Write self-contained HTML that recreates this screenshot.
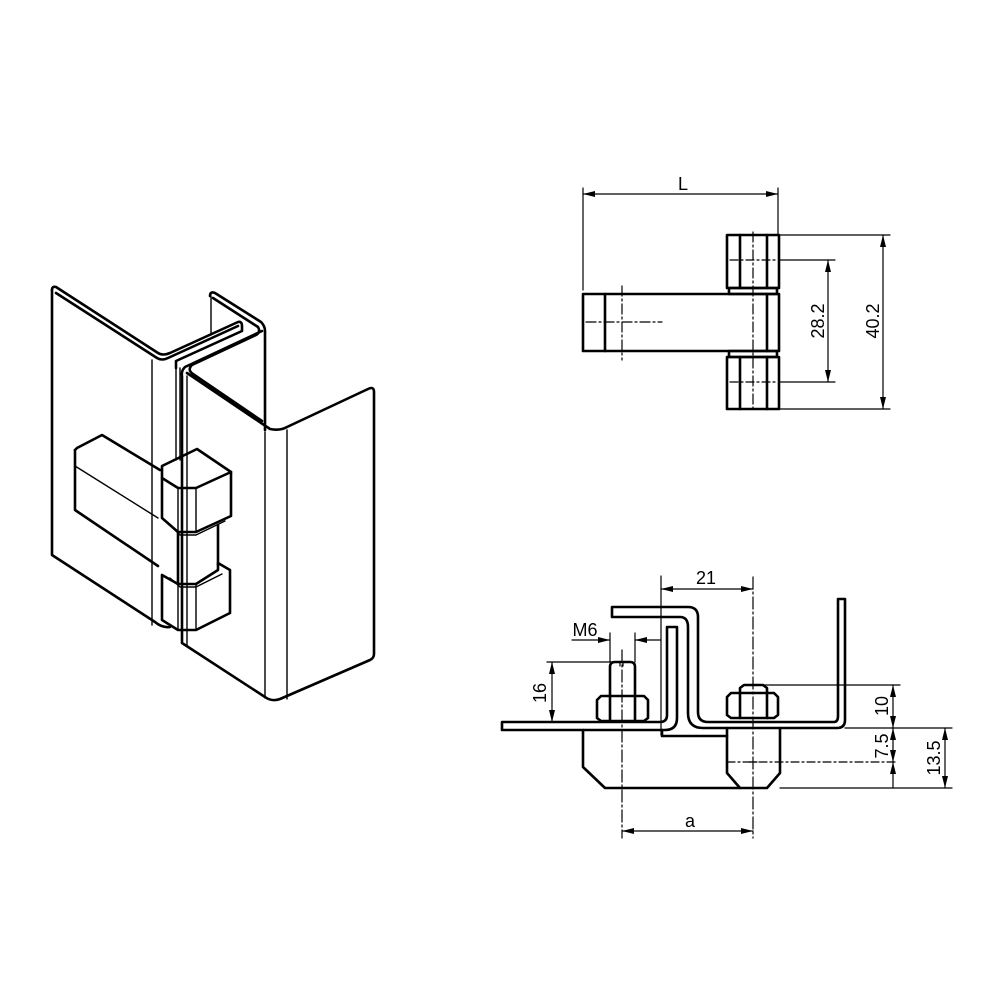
<!DOCTYPE html>
<html><head><meta charset="utf-8"><style>
html,body{margin:0;padding:0;background:#fff}
svg{display:block}
text{font-family:"Liberation Sans","DejaVu Sans",sans-serif;font-size:18px;fill:#000}
</style></head><body>
<svg width="1000" height="1000" viewBox="0 0 1000 1000" xmlns="http://www.w3.org/2000/svg">
<defs>
<marker id="a" viewBox="0 0 12 6" refX="12" refY="3" markerWidth="12" markerHeight="6" orient="auto-start-reverse" markerUnits="userSpaceOnUse"><path d="M0,0 L12,3 L0,6 Z" fill="#000"/></marker>
</defs>
<g fill="none" stroke="#000" stroke-linejoin="round" stroke-linecap="round">
<!-- ISOMETRIC -->
<g stroke-width="2.6">
<path d="M52,290 Q52,286 56,287 L158,353 Q163,356 170,353 L238,322 Q242,321 242,326 L242,331 L176,361 L176,368"/>
<path d="M56,293 L157,358 Q162,361 168,358 L238,326"/>
<path d="M52,290 L52,555 L155,622 Q162,628 170,627"/>
<path d="M210,296 Q210,291 215,293 L261,322 Q265,326 265,331 L265,430"/>
<path d="M213,298 L258,327 Q261,332 256,335 L192,365 Q187,370 193,374 L262,421"/>
<path d="M262,331 L185,367 Q181,371 182,376 L182,643 L265,697 Q272,702 280,699 L370,660 Q374,658 374,654 L374,392 Q374,386 368,389 L287,427 Q280,431 270,429 L187,373"/>
<path d="M75,450 L75,510 L158,566"/>
<path d="M75,450 L77,448 L102,435 L160,470"/>
<path d="M162,466 L197,449 L231,472 L196,488 L178,488 L162,478 Z"/>
<path d="M162,478 L162,518 L178,532 L196,532 L231,516 L231,472"/>
<path d="M178,532 L178,584 M218,525 L218,565"/>
<path d="M162,575 L162,620 L178,630 L196,630 L230,613 L230,570 L218,563 L218,570 L196,584 L178,584 L162,575"/>
</g>
<g stroke-width="1.4">
<path d="M152,360 L152,625"/>
<path d="M211,296 L211,335"/>
<path d="M187,376 L187,645"/>
<path d="M265,432 L265,698"/>
<path d="M287,430 L287,699"/>
<path d="M176,368 L176,460"/>
<path d="M180,368 L180,460"/>
<path d="M75,466 L158,518"/>
<path d="M178,488 L178,532 M196,488 L196,532"/>
<path d="M170,525 L180,535 L196,535 L225,521"/>
<path d="M178,584 L178,630 M196,584 L196,630"/>
<path d="M170,578 L180,587 L196,587 L222,574"/>
<path d="M182,630 L182,642"/>
</g>

<!-- TOP VIEW -->
<g stroke-width="2.6">
<rect x="727" y="235" width="52" height="53"/>
<rect x="729" y="288" width="48" height="6"/>
<rect x="583" y="294" width="196" height="57"/>
<rect x="729" y="351" width="48" height="6"/>
<rect x="727" y="357" width="52" height="52"/>
<path d="M740,235 V288 M767,235 V288 M740,357 V409 M767,357 V409 M605,294 V351 M767,294 V351"/>
</g>
<g stroke-width="1.2">
<path d="M753,232 V412" stroke-dasharray="10,3,2,3"/>
<path d="M730,260 H776 M730,382 H776" stroke-dasharray="8,3,2,3"/>
<path d="M622,286 V360 M586,322 H662" stroke-dasharray="10,3,2,3"/>
<path d="M583,290 V188 M778,235 V188"/>
<path d="M583,194 H778" marker-start="url(#a)" marker-end="url(#a)"/>
<path d="M779,260 H835 M779,382 H835 M779,235 H890 M779,409 H890"/>
<path d="M828,260 V382" marker-start="url(#a)" marker-end="url(#a)"/>
<path d="M883,235 V409" marker-start="url(#a)" marker-end="url(#a)"/>
</g>
<g stroke="none">
<text x="683" y="190" text-anchor="middle">L</text>
<text transform="translate(824,321) rotate(-90)" text-anchor="middle">28.2</text>
<text transform="translate(879,321) rotate(-90)" text-anchor="middle">40.2</text>
</g>

<!-- SECTION VIEW -->
<g stroke-width="2.6">
<path d="M612,607 L688,607 Q698,607 698,617 L698,712 Q698,722 708,722 L834,722 Q838,722 838,716 L838,599 L845,599 L845,720 Q845,728 837,728 L703,728 Q688,728 688,713 L688,627 Q688,617 680,617 L612,617 Z"/>
<path d="M502,722 L660,722 Q667,722 667,715 L667,627 L677,627 L677,718 Q677,730 665,730 L502,730 Z"/>
<path d="M583,730 L583,767 L605,788 L740,788 M662,730 L662,736 L727,736"/>
<path d="M727,728 L727,773 L740,788 L767,788 L780,773 L780,728"/>
<path d="M597,700 L601,696 L644,696 L648,700 L648,718 L644,721 L601,721 L597,718 Z"/>
<path d="M610,696 V721 M635,696 V721"/>
<path d="M610,696 L610,667 Q610,662 615,662 L630,662 Q635,662 635,667 L635,696"/>
<path d="M727,697 L731,693 L774,693 L778,697 L778,715 L774,718 L731,718 L727,715 Z"/>
<path d="M740,693 V718 M767,693 V718"/>
<path d="M740,693 L740,688 L744,685 L763,685 L767,688 L767,693"/>
</g>
<g stroke-width="1.2">
<path d="M620,662 V666 M623,662 V666"/>
<path d="M622,650 V838 M753,577 V838" stroke-dasharray="12,3,2,3"/>
<path d="M727,762 H898" stroke-dasharray="8,3,2,3"/>
<path d="M749,762 H757"/>
<path d="M661,576 V735"/>
<path d="M661,589 H753" marker-start="url(#a)" marker-end="url(#a)"/>
<path d="M610,633 V662 M635,633 V662"/>
<path d="M572,640 H610" marker-end="url(#a)"/>
<path d="M661,640 H635" marker-end="url(#a)"/>
<path d="M547,662 H612"/>
<path d="M552,662 V722" marker-start="url(#a)" marker-end="url(#a)"/>
<path d="M760,685 H900 M845,728 H952 M780,788 H952"/>
<path d="M893,685 V728" marker-start="url(#a)" marker-end="url(#a)"/>
<path d="M893,728 V762" marker-start="url(#a)" marker-end="url(#a)"/>
<path d="M893,762 V788" marker-start="url(#a)"/>
<path d="M945,728 V788" marker-start="url(#a)" marker-end="url(#a)"/>
<path d="M622,831 H753" marker-start="url(#a)" marker-end="url(#a)"/>
</g>
<g stroke="none">
<text x="706" y="584" text-anchor="middle">21</text>
<text x="585" y="636" text-anchor="middle">M6</text>
<text transform="translate(546,693) rotate(-90)" text-anchor="middle">16</text>
<text transform="translate(888,706) rotate(-90)" text-anchor="middle">10</text>
<text transform="translate(888,746) rotate(-90)" text-anchor="middle">7.5</text>
<text transform="translate(940,758) rotate(-90)" text-anchor="middle">13.5</text>
<text x="690" y="827" text-anchor="middle">a</text>
</g>
</g>
</svg>
</body></html>
